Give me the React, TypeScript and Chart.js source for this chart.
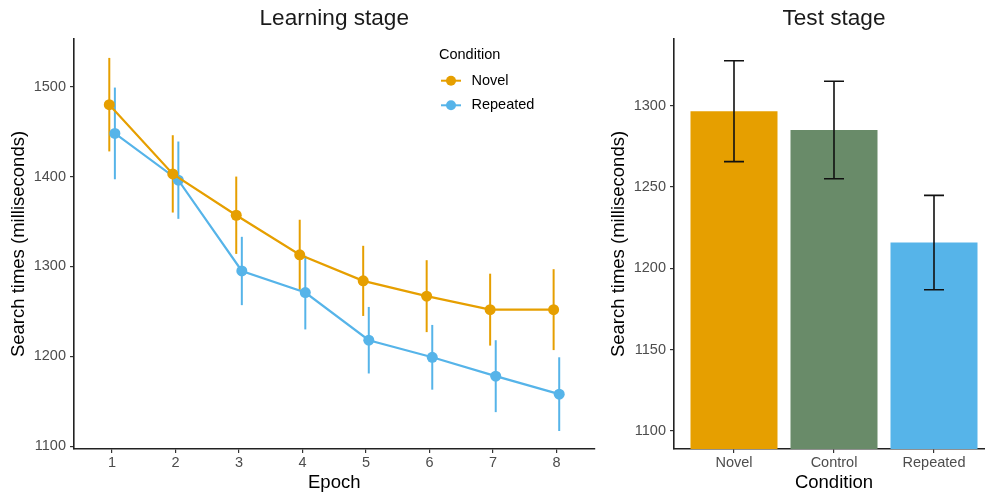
import React, { useEffect, useRef } from "react";
import { Chart, registerables } from "chart.js";

Chart.register(...registerables);

// ---------- data ----------
const epochs = [1, 2, 3, 4, 5, 6, 7, 8];
const novelMeans = [1480, 1403, 1357, 1313, 1284, 1267, 1252, 1252];
const novelErr = [52, 43, 43, 39, 39, 40, 40, 45];
const repeatedMeans = [1448, 1396, 1295, 1271, 1218, 1199, 1178, 1158];
const repeatedErr = [51, 43, 38, 41, 37, 36, 40, 41];
const learningTicks = [1100, 1200, 1300, 1400, 1500];

const conditions = ["Novel", "Control", "Repeated"];
const testMeans = [1296.6, 1285, 1215.8];
const testErr = [31, 30, 29];
const testTicks = [1100, 1150, 1200, 1250, 1300];

// ---------- styles ----------
const FONT = '"Liberation Sans", Arial, Helvetica, sans-serif';
const ORANGE = "#E69F00";
const BLUE = "#56B4E9";
const GREEN = "#698B69";
const AXIS = "#222222";
const TICKTXT = "#4D4D4D";
const DODGE = 0.044;

function drawErrorBars(chart: any) {
  const ctx = chart.ctx;
  const yScale = chart.scales.y;
  chart.data.datasets.forEach((ds: any, di: number) => {
    const meta = chart.getDatasetMeta(di);
    const errs: number[] = ds.errors || [];
    const means: number[] = ds.means || [];
    meta.data.forEach((el: any, i: number) => {
      const x = el.x;
      const top = yScale.getPixelForValue(means[i] + errs[i]);
      const bot = yScale.getPixelForValue(means[i] - errs[i]);
      ctx.save();
      ctx.strokeStyle = ds.errorColor || ds.borderColor;
      ctx.lineWidth = ds.errorWidth || 2;
      ctx.beginPath();
      ctx.moveTo(x, top);
      ctx.lineTo(x, bot);
      const cap = ds.capHalf || 0;
      if (cap > 0) {
        ctx.moveTo(x - cap, top);
        ctx.lineTo(x + cap, top);
        ctx.moveTo(x - cap, bot);
        ctx.lineTo(x + cap, bot);
      }
      ctx.stroke();
      ctx.restore();
    });
  });
}

const errorBarsBelow = {
  id: "errorBarsBelow",
  beforeDatasetsDraw(chart: any) {
    drawErrorBars(chart);
  },
};

const errorBarsAbove = {
  id: "errorBarsAbove",
  afterDatasetsDraw(chart: any) {
    drawErrorBars(chart);
  },
};

const legendPlugin = {
  id: "insideLegend",
  afterDraw(chart: any) {
    const ctx = chart.ctx;
    ctx.save();
    ctx.textBaseline = "middle";
    ctx.textAlign = "left";
    ctx.fillStyle = "#000";
    ctx.font = `14.5px ${FONT}`;
    ctx.fillText("Condition", 439, 55);
    const rows = [80.7, 105.3];
    chart.data.datasets.forEach((ds: any, i: number) => {
      const y = rows[i];
      ctx.strokeStyle = ds.borderColor;
      ctx.lineWidth = 2;
      ctx.beginPath();
      ctx.moveTo(441, y);
      ctx.lineTo(461, y);
      ctx.stroke();
      ctx.fillStyle = ds.borderColor;
      ctx.beginPath();
      ctx.arc(451, y, 5, 0, Math.PI * 2);
      ctx.fill();
      ctx.fillStyle = "#000";
      ctx.fillText(ds.label, 471.5, y);
    });
    ctx.restore();
  },
};

function axisCommon(tickVals: number[], titleText: string, isY: boolean, fixed: number, titlePad: any) {
  return {
    type: "linear",
    offset: false,
    afterBuildTicks: (s: any) => {
      s.ticks = tickVals.map((v) => ({ value: v }));
    },
    afterFit: (s: any) => {
      if (isY) s.width = fixed;
      else s.height = fixed;
    },
    grid: {
      display: true,
      drawOnChartArea: false,
      drawTicks: true,
      tickLength: 4,
      color: "#333333",
      lineWidth: 1.2,
      offset: false,
    },
    border: { display: true, color: AXIS, width: 1.6 },
    ticks: {
      font: { family: FONT, size: 14.5 },
      color: TICKTXT,
      padding: isY ? 4 : 1.5,
      autoSkip: false,
      maxRotation: 0,
      callback: (v: any) => String(v),
    },
    title: {
      display: true,
      text: titleText,
      color: "#000",
      font: { family: FONT, size: 18.5, lineHeight: 1 },
      padding: titlePad,
    },
  };
}

function LearningChart() {
  const ref = useRef<HTMLCanvasElement | null>(null);
  useEffect(() => {
    if (!ref.current) return;
    const chart = new Chart(ref.current, {
      type: "line",
      data: {
        datasets: [
          {
            label: "Novel",
            data: epochs.map((e, i) => ({ x: e - DODGE, y: novelMeans[i] })),
            means: novelMeans,
            errors: novelErr,
            borderColor: ORANGE,
            backgroundColor: ORANGE,
            pointBackgroundColor: ORANGE,
            pointBorderWidth: 0,
            pointRadius: 5.5,
            borderWidth: 2.2,
            tension: 0,
          } as any,
          {
            label: "Repeated",
            data: epochs.map((e, i) => ({ x: e + DODGE, y: repeatedMeans[i] })),
            means: repeatedMeans,
            errors: repeatedErr,
            borderColor: BLUE,
            backgroundColor: BLUE,
            pointBackgroundColor: BLUE,
            pointBorderWidth: 0,
            pointRadius: 5.5,
            borderWidth: 2.2,
            tension: 0,
          } as any,
        ],
      },
      options: {
        responsive: false,
        animation: false,
        layout: { padding: { left: 0, right: 5, top: 0, bottom: 0 } },
        plugins: {
          legend: { display: false },
          tooltip: { enabled: false },
          title: {
            display: true,
            text: "Learning stage",
            fullSize: false,
            color: "#1a1a1a",
            font: { family: FONT, size: 22.6, weight: "normal", lineHeight: 1.2 },
            padding: { top: 5.6, bottom: 6.3 },
          },
        },
        scales: {
          x: { ...axisCommon(epochs, "Epoch", false, 43, { top: 0, bottom: 0 }), min: 0.4, max: 8.6 },
          y: {
            ...axisCommon(learningTicks, "Search times (milliseconds)", true, 74, { top: 9.75, bottom: 0 }),
            min: 1097,
            max: 1553,
          },
        },
      } as any,
      plugins: [errorBarsBelow, legendPlugin],
    });
    return () => chart.destroy();
  }, []);
  return <canvas ref={ref} width={600} height={492} style={{ position: "absolute", left: 0, top: 0 }} />;
}

function TestChart() {
  const ref = useRef<HTMLCanvasElement | null>(null);
  useEffect(() => {
    if (!ref.current) return;
    const chart = new Chart(ref.current, {
      type: "bar",
      data: {
        datasets: [
          {
            label: "Test",
            data: conditions.map((c, i) => ({ x: i + 1, y: testMeans[i] })),
            means: testMeans,
            errors: testErr,
            backgroundColor: [ORANGE, GREEN, BLUE],
            borderWidth: 0,
            categoryPercentage: 0.87,
            barPercentage: 1,
            errorColor: "#111",
            errorWidth: 1.6,
            capHalf: 10,
          } as any,
        ],
      },
      options: {
        responsive: false,
        animation: false,
        layout: { padding: { left: 0, right: 0, top: 0, bottom: 0 } },
        plugins: {
          legend: { display: false },
          tooltip: { enabled: false },
          title: {
            display: true,
            text: "Test stage",
            fullSize: false,
            color: "#1a1a1a",
            font: { family: FONT, size: 22.6, weight: "normal", lineHeight: 1.2 },
            padding: { top: 5.6, bottom: 6.3 },
          },
        },
        scales: {
          x: {
            ...axisCommon([1, 2, 3], "Condition", false, 43, { top: 0, bottom: 0 }),
            min: 0.4,
            max: 3.6,
            ticks: {
              font: { family: FONT, size: 14.5 },
              color: TICKTXT,
              padding: 1.5,
              autoSkip: false,
              maxRotation: 0,
              callback: (v: any) => conditions[Math.round(Number(v)) - 1] ?? "",
            },
          },
          y: {
            ...axisCommon(testTicks, "Search times (milliseconds)", true, 74, { top: 9.75, bottom: 0 }),
            min: 1088.8,
            max: 1341,
          },
        },
      } as any,
      plugins: [errorBarsAbove],
    });
    return () => chart.destroy();
  }, []);
  return <canvas ref={ref} width={394} height={492} style={{ position: "absolute", left: 600, top: 0 }} />;
}

export default function App() {
  return (
    <div
      style={{
        position: "fixed",
        left: 0,
        top: 0,
        width: 985,
        height: 492,
        overflow: "hidden",
        background: "#fff",
      }}
    >
      <LearningChart />
      <TestChart />
    </div>
  );
}
